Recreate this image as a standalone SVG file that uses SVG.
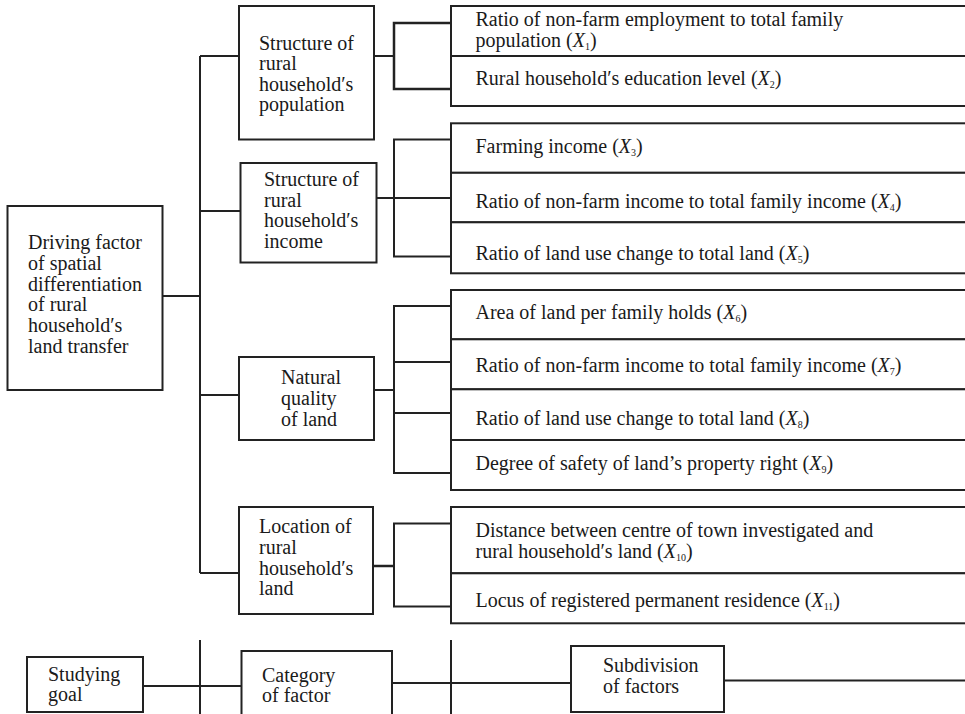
<svg xmlns="http://www.w3.org/2000/svg" width="965" height="714" viewBox="0 0 965 714">
<style>
rect{fill:#fff;stroke:#222;stroke-width:2}
line,polyline{stroke:#222;stroke-width:2;fill:none}
text{font-family:"Liberation Serif","Times New Roman",serif;font-size:20px;fill:#1a1a1a}
.i{font-style:italic}
.s{font-size:10px}
</style>
<rect x="0" y="0" width="965" height="714" style="stroke:none"/>
<g id="connectors">
<line x1="162" y1="296" x2="200" y2="296"/>
<line x1="200" y1="56" x2="200" y2="573"/>
<line x1="200" y1="56" x2="239" y2="56"/>
<line x1="200" y1="211" x2="240" y2="211"/>
<line x1="200" y1="395" x2="239" y2="395"/>
<line x1="200" y1="573" x2="239" y2="573"/>
<line x1="374" y1="56" x2="394" y2="56"/>
<polyline points="451,23 394,23 394,89 451,89" style="stroke-width:2.5"/>
<line x1="376" y1="198" x2="451" y2="198"/>
<polyline points="451,139.5 394,139.5 394,256.5 451,256.5"/>
<line x1="374" y1="390" x2="394" y2="390"/>
<polyline points="451,306 394,306 394,473 451,473"/>
<line x1="394" y1="362" x2="451" y2="362"/>
<line x1="394" y1="413" x2="451" y2="413"/>
<line x1="373" y1="566" x2="394" y2="566" style="stroke-width:2.5"/>
<polyline points="451,523.5 394,523.5 394,606.5 451,606.5"/>
<line x1="143" y1="686" x2="241" y2="686"/>
<line x1="200" y1="640" x2="200" y2="714"/>
<line x1="392" y1="683" x2="571" y2="683"/>
<line x1="451" y1="640" x2="451" y2="714"/>
<line x1="724" y1="680.5" x2="965" y2="680.5"/>
</g>
<g id="goal">
<rect x="7.5" y="206" width="155" height="184"/>
<text x="28" y="249">Driving factor</text>
<text x="28" y="270">of spatial</text>
<text x="28" y="290.5">differentiation</text>
<text x="28" y="311">of rural</text>
<text x="28" y="332">household′s</text>
<text x="28" y="352.5">land transfer</text>
</g>
<g id="cat-population">
<rect x="239" y="6" width="135" height="133.5"/>
<text x="259" y="49.5">Structure of</text>
<text x="259" y="70">rural</text>
<text x="259" y="90.7">household′s</text>
<text x="259" y="111.3">population</text>
</g>
<g id="cat-income">
<rect x="240.5" y="163" width="136" height="99.5"/>
<text x="264" y="186">Structure of</text>
<text x="264" y="206.7">rural</text>
<text x="264" y="227.3">household′s</text>
<text x="264" y="248">income</text>
</g>
<g id="cat-natural">
<rect x="239" y="357" width="135" height="83"/>
<text x="281" y="384.3">Natural</text>
<text x="281" y="405">quality</text>
<text x="281" y="425.7">of land</text>
</g>
<g id="cat-location">
<rect x="239" y="507" width="134" height="107"/>
<text x="259" y="533.3">Location of</text>
<text x="259" y="554">rural</text>
<text x="259" y="574.7">household′s</text>
<text x="259" y="595.3">land</text>
</g>
<g id="x1">
<rect x="451" y="6" width="520" height="50"/>
<text x="475.5" y="26">Ratio of non-farm employment to total family</text>
<text x="475.5" y="46.5">population (<tspan class="i">X</tspan><tspan class="s" dy="3">1</tspan><tspan dy="-3">)</tspan></text>
</g>
<g id="x2">
<rect x="451" y="56" width="520" height="50"/>
<text x="475.5" y="85.3">Rural household′s education level (<tspan class="i">X</tspan><tspan class="s" dy="3">2</tspan><tspan dy="-3">)</tspan></text>
</g>
<g id="x3">
<rect x="451" y="123.3" width="520" height="49.5"/>
<text x="475.5" y="153.3">Farming income (<tspan class="i">X</tspan><tspan class="s" dy="3">3</tspan><tspan dy="-3">)</tspan></text>
</g>
<g id="x4">
<rect x="451" y="172.8" width="520" height="49.5"/>
<text x="475.5" y="208.3">Ratio of non-farm income to total family income (<tspan class="i">X</tspan><tspan class="s" dy="3">4</tspan><tspan dy="-3">)</tspan></text>
</g>
<g id="x5">
<rect x="451" y="222.3" width="520" height="51"/>
<text x="475.5" y="260">Ratio of land use change to total land (<tspan class="i">X</tspan><tspan class="s" dy="3">5</tspan><tspan dy="-3">)</tspan></text>
</g>
<g id="x6">
<rect x="451" y="290" width="520" height="49.3"/>
<text x="475.5" y="319.3">Area of land per family holds (<tspan class="i">X</tspan><tspan class="s" dy="3">6</tspan><tspan dy="-3">)</tspan></text>
</g>
<g id="x7">
<rect x="451" y="339.3" width="520" height="50"/>
<text x="475.5" y="371.7">Ratio of non-farm income to total family income (<tspan class="i">X</tspan><tspan class="s" dy="3">7</tspan><tspan dy="-3">)</tspan></text>
</g>
<g id="x8">
<rect x="451" y="389.3" width="520" height="50.7"/>
<text x="475.5" y="425">Ratio of land use change to total land (<tspan class="i">X</tspan><tspan class="s" dy="3">8</tspan><tspan dy="-3">)</tspan></text>
</g>
<g id="x9">
<rect x="451" y="440" width="520" height="50"/>
<text x="475.5" y="470">Degree of safety of land’s property right (<tspan class="i">X</tspan><tspan class="s" dy="3">9</tspan><tspan dy="-3">)</tspan></text>
</g>
<g id="x10">
<rect x="451" y="507" width="520" height="66.3"/>
<text x="475.5" y="536.7">Distance between centre of town investigated and</text>
<text x="475.5" y="558.3">rural household′s land (<tspan class="i">X</tspan><tspan class="s" dy="3">10</tspan><tspan dy="-3">)</tspan></text>
</g>
<g id="x11">
<rect x="451" y="573.3" width="520" height="50"/>
<text x="475.5" y="606.7">Locus of registered permanent residence (<tspan class="i">X</tspan><tspan class="s" dy="3">11</tspan><tspan dy="-3">)</tspan></text>
</g>
<g id="legend-goal">
<rect x="27" y="657" width="116" height="55"/>
<text x="48" y="681">Studying</text>
<text x="48" y="701">goal</text>
</g>
<g id="legend-category">
<rect x="241.5" y="651" width="150.5" height="66"/>
<text x="262" y="682">Category</text>
<text x="262" y="702">of factor</text>
</g>
<g id="legend-subdivision">
<rect x="571" y="646" width="153" height="66"/>
<text x="603" y="672">Subdivision</text>
<text x="603" y="693">of factors</text>
</g>
</svg>
